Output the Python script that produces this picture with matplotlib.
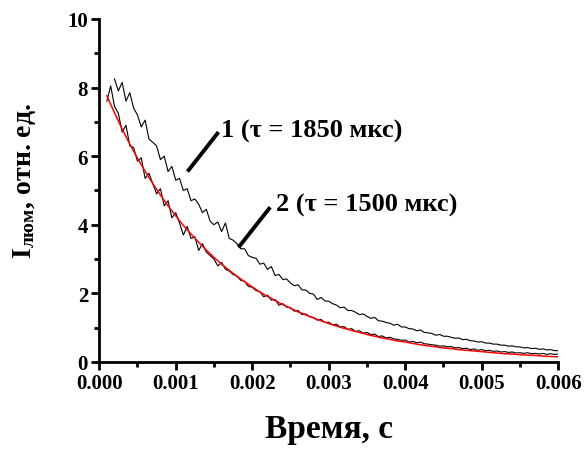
import numpy as np
import matplotlib
matplotlib.use("Agg")
import matplotlib.pyplot as plt
from matplotlib.ticker import MultipleLocator, FormatStrFormatter

plt.rcParams['font.family'] = ['Liberation Serif', 'DejaVu Serif']
plt.rcParams['font.weight'] = 'bold'
plt.rcParams['mathtext.fontset'] = 'custom'
plt.rcParams['mathtext.rm'] = 'Liberation Serif:bold'
plt.rcParams['mathtext.bf'] = 'Liberation Serif:bold'
plt.rcParams['mathtext.it'] = 'Liberation Serif:bold'

# кривая 1 (tau = 1850 мкс), шаг 50 мкс, начало 0.2 мс
t1_start, t_end = 0.0002, 0.006
curve1 = [8.25, 7.90, 8.15, 7.60, 7.85, 7.40, 7.20, 6.85, 7.05, 6.50,
          6.40, 6.30, 5.90, 6.00, 5.55, 5.70, 5.30, 5.35, 5.00, 5.05,
          4.70, 4.75, 4.60, 4.35, 4.45, 4.10, 4.00, 4.08, 3.80, 4.05,
          3.60, 3.55, 3.45, 3.30, 3.30, 3.10, 3.05, 3.02, 2.85, 2.88,
          2.70, 2.78, 2.52, 2.55, 2.40, 2.42, 2.30, 2.22, 2.25, 2.10,
          2.10, 2.00, 1.98, 1.82, 1.88, 1.78, 1.77, 1.70, 1.66, 1.58,
          1.60, 1.50, 1.50, 1.45, 1.38, 1.40, 1.33, 1.27, 1.30, 1.20,
          1.19, 1.15, 1.13, 1.07, 1.10, 1.02, 1.02, 0.97, 0.96, 0.91,
          0.93, 0.86, 0.85, 0.83, 0.78, 0.80, 0.75, 0.75, 0.72, 0.69,
          0.70, 0.65, 0.66, 0.62, 0.61, 0.58, 0.59, 0.55, 0.55, 0.52,
          0.52, 0.49, 0.49, 0.46, 0.47, 0.44, 0.44, 0.41, 0.42, 0.39,
          0.40, 0.37, 0.38, 0.35, 0.36, 0.33, 0.33]

# кривая 2 (tau = 1500 мкс), шаг 50 мкс, начало 0.1 мс
t2_start = 0.0001
curve2 = [7.60, 8.05, 7.45, 7.25, 6.70, 6.90, 6.30, 6.25, 5.85, 5.95,
          5.35, 5.50, 5.20, 4.90, 5.05, 4.55, 4.70, 4.20, 4.35, 4.05,
          3.70, 3.95, 3.60, 3.65, 3.25, 3.45, 3.20, 3.10, 3.00, 2.80,
          2.90, 2.70, 2.65, 2.55, 2.50, 2.38, 2.35, 2.20, 2.18, 2.08,
          2.05, 1.90, 1.95, 1.80, 1.82, 1.65, 1.70, 1.60, 1.58, 1.48,
          1.50, 1.38, 1.40, 1.32, 1.30, 1.22, 1.24, 1.15, 1.16, 1.08,
          1.10, 1.02, 1.03, 0.95, 0.97, 0.89, 0.91, 0.84, 0.86, 0.80,
          0.81, 0.74, 0.76, 0.70, 0.72, 0.67, 0.66, 0.63, 0.64, 0.58,
          0.60, 0.56, 0.58, 0.53, 0.52, 0.50, 0.49, 0.46, 0.47, 0.44,
          0.45, 0.41, 0.42, 0.39, 0.40, 0.36, 0.38, 0.34, 0.36, 0.33,
          0.34, 0.31, 0.32, 0.29, 0.30, 0.28, 0.29, 0.26, 0.27, 0.25,
          0.27, 0.24, 0.25, 0.23, 0.25, 0.22, 0.24, 0.22, 0.23]

# аппроксимация кривой 2, шаг 100 мкс
fit2 = [7.76, 7.26, 6.79, 6.35, 5.94, 5.56, 5.20, 4.87, 4.55, 4.26,
        3.98, 3.73, 3.49, 3.26, 3.05, 2.85, 2.67, 2.50, 2.34, 2.19,
        2.04, 1.91, 1.79, 1.67, 1.57, 1.46, 1.37, 1.28, 1.20, 1.12,
        1.05, 0.98, 0.92, 0.86, 0.80, 0.75, 0.70, 0.66, 0.61, 0.58,
        0.54, 0.50, 0.47, 0.44, 0.41, 0.39, 0.36, 0.34, 0.32, 0.30,
        0.28, 0.26, 0.24, 0.23, 0.21, 0.20, 0.19, 0.17, 0.16, 0.15]

label1 = '1 (τ = 1850 мкс)'
label2 = '2 (τ = 1500 мкс)'

t1 = np.linspace(t1_start, t_end, len(curve1))
t2 = np.linspace(t2_start, t_end, len(curve2))
tf = np.linspace(t2_start, t_end, len(fit2))

fig = plt.figure(figsize=(5.87, 4.52), dpi=100)
ax = fig.add_axes([0.169, 0.197, 0.782, 0.759])

ax.plot(t1, curve1, color='black', lw=0.8)
ax.plot(t2, curve2, color='black', lw=0.8)
ax.plot(tf, fit2, color='red', lw=1.1)

# подписи с выносками
ax.plot([0.001154, 0.001559], [5.55, 6.70], color='black', lw=2.8, solid_capstyle='butt')
ax.plot([0.001821, 0.002235], [3.34, 4.51], color='black', lw=2.8, solid_capstyle='butt')
ax.text(0.00159, 6.74, label1, fontsize=19, fontweight='bold', va='center', ha='left')
ax.text(0.002314, 4.58, label2, fontsize=19, fontweight='bold', va='center', ha='left')

ax.set_xlim(0, 0.006)
ax.set_ylim(0, 10)
ax.xaxis.set_major_locator(MultipleLocator(0.001))
ax.xaxis.set_minor_locator(MultipleLocator(0.0005))
ax.xaxis.set_major_formatter(FormatStrFormatter('%.3f'))
ax.yaxis.set_major_locator(MultipleLocator(2))
ax.yaxis.set_minor_locator(MultipleLocator(1))

for s in ['top', 'right']:
    ax.spines[s].set_visible(False)
for s in ['left', 'bottom']:
    ax.spines[s].set_linewidth(2)

ax.tick_params(which='major', direction='out', length=6, width=2, labelsize=15, pad=2)
ax.tick_params(which='minor', direction='out', length=3.5, width=2)
for lab in ax.get_xticklabels() + ax.get_yticklabels():
    lab.set_fontweight('bold')

ax.set_xlabel('Время, с', fontsize=24, fontweight='bold', labelpad=14)
ax.set_ylabel(r'$\mathbf{I}_{\mathbf{люм}}$, отн. ед.', fontsize=20, fontweight='bold')
ax.yaxis.set_label_coords(-0.133, 0.53)

fig.savefig('out.png', dpi=100)
